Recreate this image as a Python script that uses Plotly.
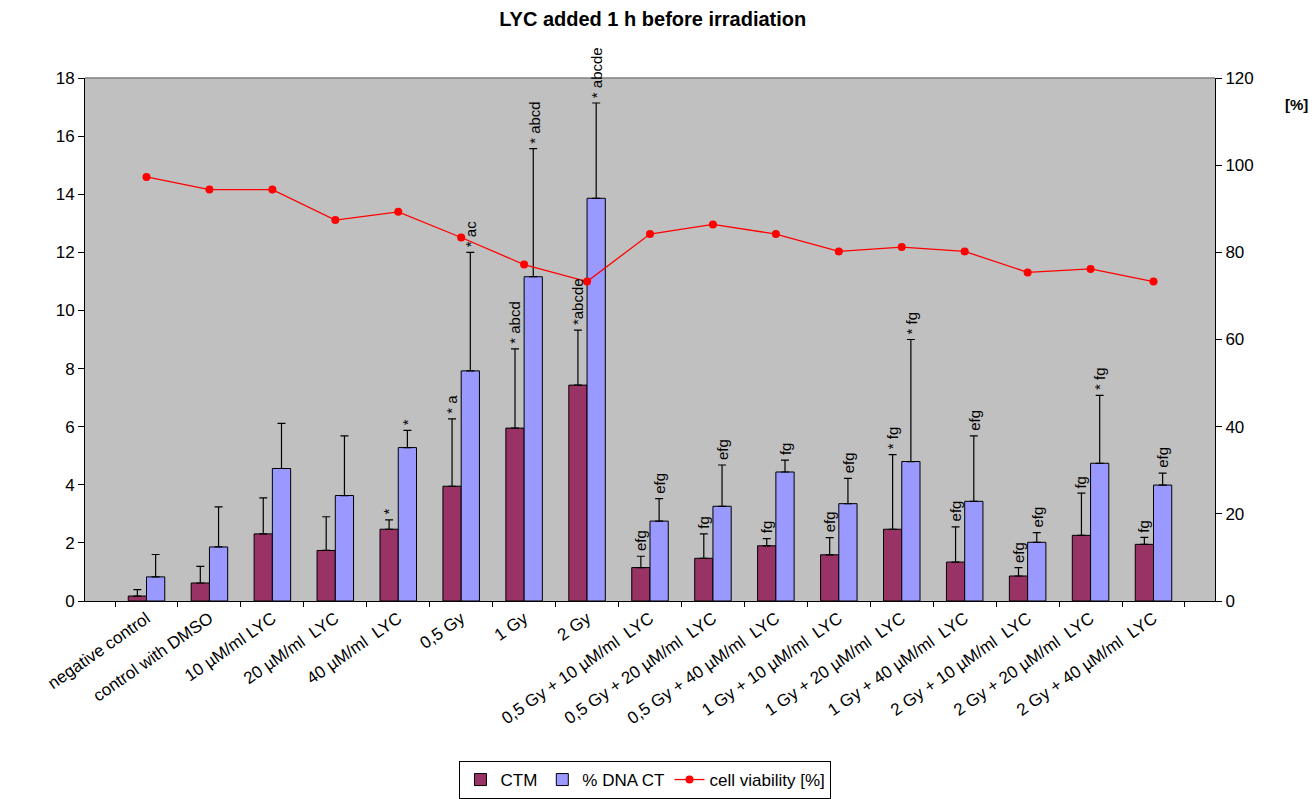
import plotly.graph_objects as go

categories = [
    "negative control", "control with DMSO", "10 µM/ml LYC", "20 µM/ml\u00a0 LYC",
    "40 µM/ml\u00a0 LYC", "0,5 Gy", "1 Gy", "2 Gy",
    "0,5 Gy + 10 µM/ml\u00a0 LYC", "0,5 Gy + 20 µM/ml\u00a0 LYC", "0,5 Gy + 40 µM/ml\u00a0 LYC",
    "1 Gy + 10 µM/ml\u00a0 LYC", "1 Gy + 20 µM/ml\u00a0 LYC", "1 Gy + 40 µM/ml\u00a0 LYC",
    "2 Gy + 10 µM/ml\u00a0 LYC", "2 Gy + 20 µM/ml\u00a0 LYC", "2 Gy + 40 µM/ml\u00a0 LYC",
]

ctm = [0.17, 0.62, 2.31, 1.74, 2.47, 3.95, 5.95, 7.43, 1.15, 1.47, 1.90, 1.59, 2.47, 1.34, 0.86, 2.26, 1.95]
ctm_sd = [0.22, 0.57, 1.24, 1.16, 0.32, 2.32, 2.73, 1.89, 0.39, 0.84, 0.25, 0.59, 2.57, 1.21, 0.29, 1.45, 0.24]
dna_ct = [0.83, 1.86, 4.56, 3.63, 5.28, 7.92, 11.16, 13.86, 2.75, 3.26, 4.44, 3.35, 4.80, 3.43, 2.02, 4.74, 3.99]
dna_sd = [0.77, 1.38, 1.55, 2.05, 0.59, 4.08, 4.41, 3.28, 0.77, 1.42, 0.41, 0.87, 4.20, 2.25, 0.33, 2.34, 0.41]
viability = [97.3, 94.4, 94.4, 87.4, 89.3, 83.4, 77.2, 73.3, 84.2, 86.4, 84.2, 80.2, 81.2, 80.2, 75.4, 76.2, 73.3]

ctm_labels = ["", "", "", "", "*", "* a", "* abcd", "*abcde", "efg", "fg", "fg", "efg", "* fg", "efg", "efg", "fg", "fg"]
dna_labels = ["", "", "", "", "*", "* ac", "* abcd", "* abcde", "efg", "efg", "fg", "efg", "* fg", "efg", "efg", "* fg", "efg"]

y_ticks = [0, 2, 4, 6, 8, 10, 12, 14, 16, 18]
y2_ticks = [0, 20, 40, 60, 80, 100, 120]

FONT = "Liberation Sans, Arial, sans-serif"

fig = go.Figure()
fig.add_trace(go.Bar(
    name="CTM", x=categories, y=ctm,
    marker=dict(color="#993366", line=dict(color="black", width=1)),
    error_y=dict(type="data", symmetric=False, array=ctm_sd, arrayminus=[0] * len(ctm),
                 color="black", thickness=1.2, width=4),
))
fig.add_trace(go.Bar(
    name="% DNA CT", x=categories, y=dna_ct,
    marker=dict(color="#9999FF", line=dict(color="black", width=1)),
    error_y=dict(type="data", symmetric=False, array=dna_sd, arrayminus=[0] * len(dna_ct),
                 color="black", thickness=1.2, width=4),
))
fig.add_trace(go.Scatter(
    name="cell viability [%]", x=categories, y=viability, yaxis="y2",
    mode="lines+markers", line=dict(color="#FF0000", width=1.3),
    marker=dict(color="#FF0000", size=8),
))

bargap = 0.42
shift = 1130 / len(categories) * (1 - bargap) / 4
annotations = []
for i, c in enumerate(categories):
    for vals, sds, labs, sx in ((ctm, ctm_sd, ctm_labels, -shift), (dna_ct, dna_sd, dna_labels, shift)):
        if labs[i]:
            annotations.append(dict(
                x=c, y=vals[i] + sds[i], xref="x", yref="y", text=labs[i],
                textangle=-90, showarrow=False, yanchor="bottom", xanchor="center",
                xshift=sx, yshift=3, font=dict(size=15, color="black", family=FONT),
            ))
annotations.append(dict(x=1.060, y=0.950, xref="paper", yref="paper", text="<b>[%]</b>",
                        xanchor="left", yanchor="middle", showarrow=False,
                        font=dict(size=15, color="black", family=FONT)))

fig.update_layout(
    width=1316, height=799,
    margin=dict(l=85, r=101, t=78, b=198, autoexpand=False),
    paper_bgcolor="white", plot_bgcolor="#C0C0C0",
    font=dict(family=FONT, size=16, color="black"),
    title=dict(text="<b>LYC added 1 h before irradiation</b>", x=0.496, xanchor="center",
               y=0.976, yanchor="middle", font=dict(size=20, family=FONT)),
    barmode="group", bargap=bargap, bargroupgap=0,
    showlegend=True,
    legend=dict(orientation="h", x=0.496, xanchor="center", yref="container", y=0.0, yanchor="bottom",
                bordercolor="black", borderwidth=1, bgcolor="white",
                font=dict(size=17, family=FONT), traceorder="normal"),
    xaxis=dict(type="category", showline=True, linecolor="black", linewidth=1,
               ticks="outside", ticklen=5, tickcolor="black", tickson="boundaries",
               tickangle=-35, tickfont=dict(size=17), showgrid=False, zeroline=False,
               automargin=False),
    yaxis=dict(range=[0, 18], tickvals=y_ticks, showline=True, linecolor="black", linewidth=1,
               ticks="outside", ticklen=6, tickcolor="black", showgrid=False, zeroline=False,
               tickfont=dict(size=17), automargin=False),
    yaxis2=dict(range=[0, 120], tickvals=y2_ticks, overlaying="y", side="right",
                showline=True, linecolor="black", linewidth=1, ticks="outside", ticklen=6,
                tickcolor="black", showgrid=False, zeroline=False, tickfont=dict(size=17),
                automargin=False),
    annotations=annotations,
    shapes=[dict(type="line", xref="paper", yref="paper", x0=0, x1=1, y0=1, y1=1,
                 line=dict(color="#808080", width=1.5))],
)

fig.write_html("out.html", config={"displayModeBar": False},
               post_script="document.body.style.margin='0px';")
